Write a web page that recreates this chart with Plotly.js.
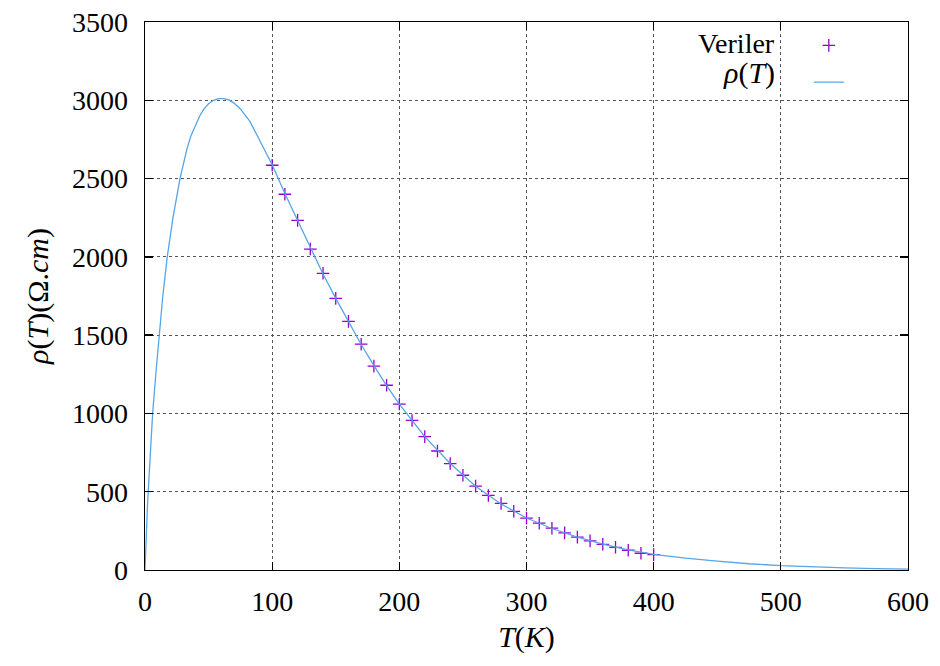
<!DOCTYPE html>
<html>
<head>
<meta charset="utf-8">
<script src="https://cdn.plot.ly/plotly-3.0.1.min.js"></script>
<style>
  html, body { margin: 0; padding: 0; background: #fff; }
  #chart { width: 940px; height: 666px; }
</style>
</head>
<body>
<div id="chart"></div>
<script>
// Measured data points (Veriler)
var dataT = [100, 110, 120, 130, 140, 150, 160, 170, 180, 190, 200, 210, 220, 230, 240, 250, 260, 270, 280, 290, 300, 310, 320, 330, 340, 350, 360, 370, 380, 390, 400];
var dataRho = [2585, 2400, 2233, 2050, 1895, 1735, 1588, 1442, 1302, 1180, 1060, 955, 852, 760, 680, 605, 536, 476, 425, 375, 331, 299, 267, 237, 210, 186, 164, 145, 126, 107, 98];

// Fitted curve rho(T)
var fitT = [0, 0.5, 1, 2, 3, 4, 6, 8.5, 11, 14, 17.5, 22, 27.5, 30, 33, 36, 40, 43, 46, 50, 54, 57.5, 62, 66, 70, 75, 82.5, 89, 95, 100, 110, 120, 130, 140, 150, 160, 170, 180, 190, 200, 220, 240, 260, 280, 300, 320, 340, 360, 380, 400, 425, 450, 475, 500, 525, 550, 575, 600];
var fitRho = [0, 140, 250, 420, 570, 720, 1000, 1250, 1500, 1750, 2000, 2250, 2500, 2590, 2690, 2770, 2850, 2900, 2940, 2978, 3000, 3010, 3010, 3002, 2982, 2945, 2865, 2765, 2672, 2588, 2405, 2230, 2055, 1890, 1735, 1585, 1440, 1305, 1178, 1060, 852, 680, 535, 422, 332, 265, 210, 165, 128, 100, 76, 57, 40, 28, 20, 13, 9, 6];

var xTicks = [0, 100, 200, 300, 400, 500, 600];
var yTicks = [0, 500, 1000, 1500, 2000, 2500, 3000, 3500];

var FONT = "Liberation Serif, DejaVu Serif, serif";

var traces = [
  {
    x: dataT, y: dataRho, type: 'scatter', mode: 'markers', name: ' ',
    marker: { symbol: 'cross-thin', size: 9, color: '#9400d3', line: { color: '#9400d3', width: 1.3 } }
  },
  {
    x: fitT, y: fitRho, type: 'scatter', mode: 'lines', name: ' ',
    line: { color: '#56a5e6', width: 1.3 }
  }
];

var axisCommon = {
  showline: true, linecolor: '#000', linewidth: 1.3, mirror: 'ticks',
  ticks: 'inside', ticklen: 8, tickcolor: '#000', tickwidth: 1.3,
  showgrid: true, gridcolor: '#555', griddash: 'dot', gridwidth: 1,
  zeroline: false,
  tickfont: { family: FONT, size: 28, color: '#000' }
};

var layout = {
  width: 940, height: 666,
  font: { family: FONT, size: 28, color: '#000' },
  margin: { l: 145, r: 31.5, t: 22, b: 96 },
  paper_bgcolor: '#fff', plot_bgcolor: '#fff',
  showlegend: true,
  legend: {
    x: 0.87, y: 1, xanchor: 'left', yanchor: 'top',
    bgcolor: 'rgba(0,0,0,0)', borderwidth: 0,
    font: { family: FONT, size: 26, color: '#000' },
    tracegroupgap: 0
  },
  xaxis: Object.assign({}, axisCommon, {
    range: [0, 600], tickmode: 'array', tickvals: xTicks, ticktext: xTicks.map(String),
    ticklabelstandoff: 6,
    title: { text: '<i>T</i>(<i>K</i>)', font: { family: FONT, size: 30, color: '#000' }, standoff: 10 }
  }),
  yaxis: Object.assign({}, axisCommon, {
    range: [0, 3500], tickmode: 'array', tickvals: yTicks, ticktext: yTicks.map(String),
    ticklabelstandoff: 10,
    title: { text: '<i>ρ</i>(<i>T</i>)(Ω.<i>cm</i>)', font: { family: FONT, size: 30, color: '#000' }, standoff: 14 }
  }),
  annotations: [
    { xref: 'paper', yref: 'paper', x: 0.828, y: 0.96, xanchor: 'right', yanchor: 'middle',
      text: 'Veriler', showarrow: false, font: { family: FONT, size: 28, color: '#000' } },
    { xref: 'paper', yref: 'paper', x: 0.828, y: 0.907, xanchor: 'right', yanchor: 'middle',
      text: '<i>ρ</i>(<i>T</i>)', showarrow: false, font: { family: FONT, size: 30, color: '#000' } }
  ]
};

Plotly.newPlot('chart', traces, layout, { displayModeBar: false, staticPlot: true });
</script>
</body>
</html>
